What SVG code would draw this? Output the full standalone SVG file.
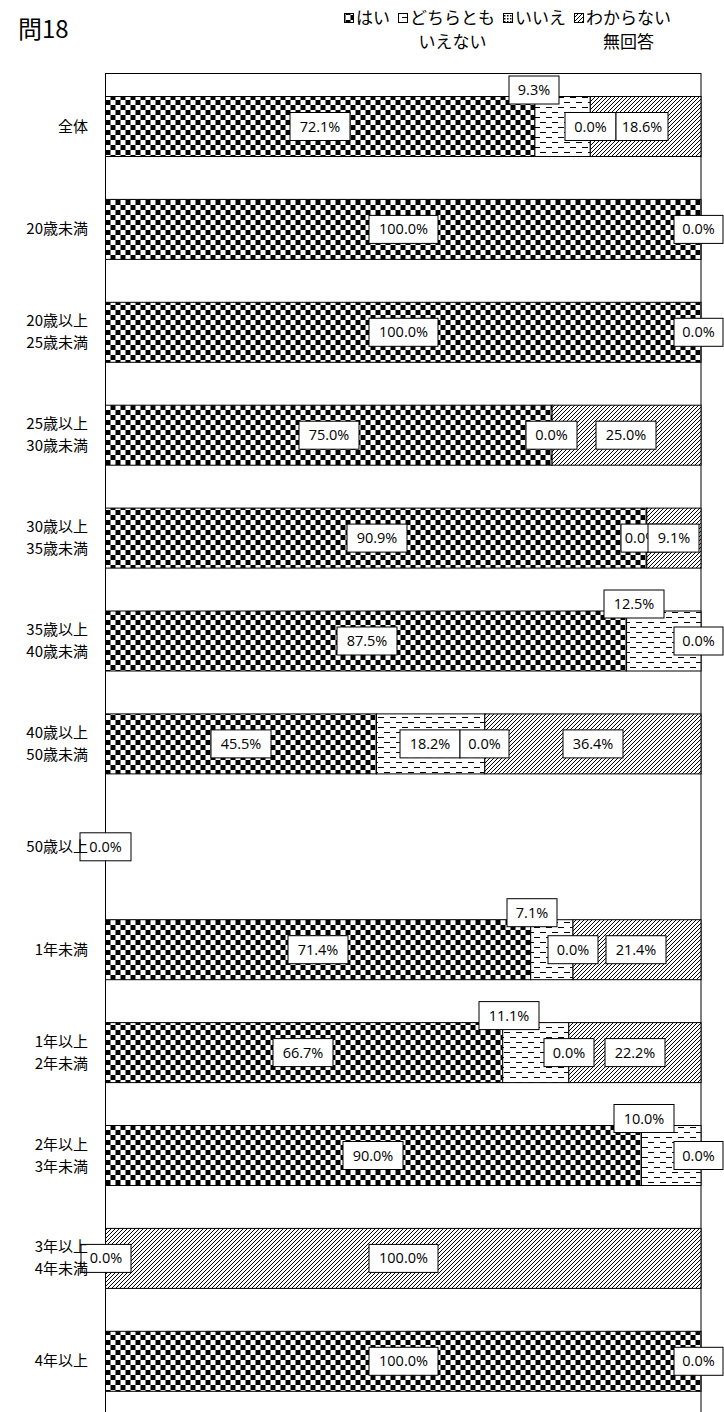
<svg xmlns="http://www.w3.org/2000/svg" width="724" height="1412" viewBox="0 0 724 1412">
<style>
.cat{font-family:"Noto Sans CJK JP","Noto Sans",sans-serif;font-size:15px;fill:#000;text-anchor:end}
.leg{font-family:"Noto Sans CJK JP","Noto Sans",sans-serif;font-size:17px;fill:#000}
.legc{font-family:"Noto Sans CJK JP","Noto Sans",sans-serif;font-size:17px;fill:#000;text-anchor:middle}
.ttl{font-family:"Noto Sans CJK JP","Noto Sans",sans-serif;font-size:24px;fill:#000}
.lb{fill:#fff;stroke:#000;stroke-width:1}
.lt{font-family:"Open Sans","Liberation Sans",sans-serif;font-size:14.5px;fill:#000;text-anchor:middle}
.seg{stroke:#000;stroke-width:1}
.yes{fill:url(#chk)}
.mid{fill:url(#dash)}
.no{fill:url(#dots)}
.unk{fill:url(#hatch)}
</style>
<defs>
<pattern id="chk" patternUnits="userSpaceOnUse" x="105.5" y="0" width="10" height="10">
<rect width="10" height="10" fill="#fff"/>
<rect width="5" height="5" fill="#000"/>
<rect x="5" y="5" width="5" height="5" fill="#000"/>
</pattern>
<pattern id="dash" patternUnits="userSpaceOnUse" width="12" height="10">
<rect width="12" height="10" fill="#fff"/>
<line x1="0" y1="2.5" x2="6" y2="2.5" stroke="#000" stroke-width="1"/>
<line x1="6" y1="7.5" x2="12" y2="7.5" stroke="#000" stroke-width="1"/>
</pattern>
<pattern id="dots" patternUnits="userSpaceOnUse" width="3" height="3">
<rect width="3" height="3" fill="#fff"/>
<rect width="1.5" height="1.5" fill="#000"/>
</pattern>
<pattern id="hatch" patternUnits="userSpaceOnUse" width="4" height="4">
<rect width="4" height="4" fill="#fff"/>
<path d="M-1,1 L1,-1 M0,4 L4,0 M3,5 L5,3" stroke="#000" stroke-width="1"/>
</pattern>
</defs>
<rect width="724" height="1412" fill="#fff"/>

<g id="title"><text class="ttl" x="18" y="38">問18</text></g>

<g id="legend">
<rect class="seg yes" x="344.5" y="13.5" width="9" height="9"/>
<text class="leg" x="356" y="24">はい</text>
<rect class="seg mid" x="398.5" y="13.5" width="9" height="9"/>
<text class="leg" x="410" y="24">どちらとも</text>
<text class="legc" x="452.5" y="48">いえない</text>
<rect class="seg no" x="503.5" y="13.5" width="9" height="9"/>
<text class="leg" x="515" y="24">いいえ</text>
<rect class="seg unk" x="574.5" y="13.5" width="9" height="9"/>
<text class="leg" x="586" y="24">わからない</text>
<text class="legc" x="628.5" y="48">無回答</text>
</g>

<g id="plot-frame">
<rect x="105.5" y="73.5" width="595.5" height="1360" fill="none" stroke="#000" stroke-width="1"/>
</g>

<g id="bars">
<g id="row-zentai">
<rect class="seg yes" x="105.5" y="96.5" width="429.4" height="60"/>
<rect class="seg mid" x="534.9" y="96.5" width="55.4" height="60"/>
<rect class="seg unk" x="590.3" y="96.5" width="110.7" height="60"/>
</g>
<g id="row-u20"><rect class="seg yes" x="105.5" y="199.4" width="595.5" height="60"/></g>
<g id="row-20-25"><rect class="seg yes" x="105.5" y="302.3" width="595.5" height="60"/></g>
<g id="row-25-30">
<rect class="seg yes" x="105.5" y="405.2" width="446.6" height="60"/>
<rect class="seg unk" x="552.1" y="405.2" width="148.9" height="60"/>
</g>
<g id="row-30-35">
<rect class="seg yes" x="105.5" y="508.1" width="541.3" height="60"/>
<rect class="seg unk" x="646.8" y="508.1" width="54.2" height="60"/>
</g>
<g id="row-35-40">
<rect class="seg yes" x="105.5" y="611" width="521.1" height="60"/>
<rect class="seg mid" x="626.6" y="611" width="74.4" height="60"/>
</g>
<g id="row-40-50">
<rect class="seg yes" x="105.5" y="713.9" width="271" height="60"/>
<rect class="seg mid" x="376.5" y="713.9" width="108.3" height="60"/>
<rect class="seg unk" x="484.8" y="713.9" width="216.2" height="60"/>
</g>
<g id="row-y1">
<rect class="seg yes" x="105.5" y="919.7" width="425.2" height="60"/>
<rect class="seg mid" x="530.7" y="919.7" width="42.3" height="60"/>
<rect class="seg unk" x="573" y="919.7" width="128" height="60"/>
</g>
<g id="row-y1-2">
<rect class="seg yes" x="105.5" y="1022.6" width="397.2" height="60"/>
<rect class="seg mid" x="502.7" y="1022.6" width="66.1" height="60"/>
<rect class="seg unk" x="568.8" y="1022.6" width="132.2" height="60"/>
</g>
<g id="row-y2-3">
<rect class="seg yes" x="105.5" y="1125.5" width="536" height="60"/>
<rect class="seg mid" x="641.5" y="1125.5" width="59.5" height="60"/>
</g>
<g id="row-y3-4"><rect class="seg unk" x="105.5" y="1228.4" width="595.5" height="60"/></g>
<g id="row-y4"><rect class="seg yes" x="105.5" y="1331.3" width="595.5" height="60"/></g>
</g>

<g id="data-labels">
<rect class="lb" x="290" y="112.5" width="60" height="28"/><text class="lt" x="320" y="131.5">72.1%</text>
<rect class="lb" x="509" y="76" width="50" height="28"/><text class="lt" x="534" y="95">9.3%</text>
<rect class="lb" x="565" y="112.5" width="51" height="28"/><text class="lt" x="590.5" y="131.5">0.0%</text>
<rect class="lb" x="616" y="112.5" width="52" height="28"/><text class="lt" x="642" y="131.5">18.6%</text>

<rect class="lb" x="369" y="215.4" width="69" height="28"/><text class="lt" x="403.5" y="234.4">100.0%</text>
<rect class="lb" x="674" y="215.4" width="49" height="28"/><text class="lt" x="698.5" y="234.4">0.0%</text>

<rect class="lb" x="369" y="318.3" width="69" height="28"/><text class="lt" x="403.5" y="337.3">100.0%</text>
<rect class="lb" x="674" y="318.3" width="49" height="28"/><text class="lt" x="698.5" y="337.3">0.0%</text>

<rect class="lb" x="299" y="421.2" width="60" height="28"/><text class="lt" x="329" y="440.2">75.0%</text>
<rect class="lb" x="526" y="421.2" width="51" height="28"/><text class="lt" x="551.5" y="440.2">0.0%</text>
<rect class="lb" x="596" y="421.2" width="60" height="28"/><text class="lt" x="626" y="440.2">25.0%</text>

<rect class="lb" x="347" y="524.1" width="60" height="28"/><text class="lt" x="377" y="543.1">90.9%</text>
<rect class="lb" x="621" y="524.1" width="48" height="28"/><text class="lt" x="641" y="543.1">0.0%</text>
<rect class="lb" x="648" y="524.1" width="51" height="28"/><text class="lt" x="674" y="543.1">9.1%</text>

<rect class="lb" x="337" y="627" width="60" height="28"/><text class="lt" x="367" y="646">87.5%</text>
<rect class="lb" x="604" y="590" width="60" height="28"/><text class="lt" x="634" y="609">12.5%</text>
<rect class="lb" x="674" y="627" width="49" height="28"/><text class="lt" x="698.5" y="646">0.0%</text>

<rect class="lb" x="211" y="729.9" width="60" height="28"/><text class="lt" x="241" y="748.9">45.5%</text>
<rect class="lb" x="400" y="729.9" width="60" height="28"/><text class="lt" x="430" y="748.9">18.2%</text>
<rect class="lb" x="460" y="729.9" width="49" height="28"/><text class="lt" x="484.5" y="748.9">0.0%</text>
<rect class="lb" x="563" y="729.9" width="60" height="28"/><text class="lt" x="593" y="748.9">36.4%</text>

<rect class="lb" x="80" y="832.8" width="51" height="28"/><text class="lt" x="105.5" y="851.8">0.0%</text>

<rect class="lb" x="288" y="935.7" width="60" height="28"/><text class="lt" x="318" y="954.7">71.4%</text>
<rect class="lb" x="507" y="898.7" width="50" height="28"/><text class="lt" x="532" y="917.7">7.1%</text>
<rect class="lb" x="548" y="935.7" width="50" height="28"/><text class="lt" x="573" y="954.7">0.0%</text>
<rect class="lb" x="606" y="935.7" width="60" height="28"/><text class="lt" x="636" y="954.7">21.4%</text>

<rect class="lb" x="273" y="1038.6" width="60" height="28"/><text class="lt" x="303" y="1057.6">66.7%</text>
<rect class="lb" x="479" y="1001.6" width="60" height="28"/><text class="lt" x="509" y="1020.6">11.1%</text>
<rect class="lb" x="544" y="1038.6" width="50" height="28"/><text class="lt" x="569" y="1057.6">0.0%</text>
<rect class="lb" x="605" y="1038.6" width="60" height="28"/><text class="lt" x="635" y="1057.6">22.2%</text>

<rect class="lb" x="343" y="1141.5" width="60" height="28"/><text class="lt" x="373" y="1160.5">90.0%</text>
<rect class="lb" x="614" y="1104.5" width="60" height="28"/><text class="lt" x="644" y="1123.5">10.0%</text>
<rect class="lb" x="674" y="1141.5" width="49" height="28"/><text class="lt" x="698.5" y="1160.5">0.0%</text>

<rect class="lb" x="81" y="1244.4" width="50" height="28"/><text class="lt" x="106" y="1263.4">0.0%</text>
<rect class="lb" x="369" y="1244.4" width="69" height="28"/><text class="lt" x="403.5" y="1263.4">100.0%</text>

<rect class="lb" x="369" y="1347.3" width="69" height="28"/><text class="lt" x="403.5" y="1366.3">100.0%</text>
<rect class="lb" x="674" y="1347.3" width="49" height="28"/><text class="lt" x="698.5" y="1366.3">0.0%</text>
</g>

<g id="categories">
<text class="cat" x="88" y="131.5">全体</text>
<text class="cat" x="88" y="234.4">20歳未満</text>
<text class="cat" x="88" y="326.3">20歳以上</text><text class="cat" x="88" y="348.3">25歳未満</text>
<text class="cat" x="88" y="429.2">25歳以上</text><text class="cat" x="88" y="451.2">30歳未満</text>
<text class="cat" x="88" y="532.1">30歳以上</text><text class="cat" x="88" y="554.1">35歳未満</text>
<text class="cat" x="88" y="635">35歳以上</text><text class="cat" x="88" y="657">40歳未満</text>
<text class="cat" x="88" y="737.9">40歳以上</text><text class="cat" x="88" y="759.9">50歳未満</text>
<text class="cat" x="88" y="851.8">50歳以上</text>
<text class="cat" x="88" y="954.7">1年未満</text>
<text class="cat" x="88" y="1046.6">1年以上</text><text class="cat" x="88" y="1068.6">2年未満</text>
<text class="cat" x="88" y="1149.5">2年以上</text><text class="cat" x="88" y="1171.5">3年未満</text>
<text class="cat" x="88" y="1252.4">3年以上</text><text class="cat" x="88" y="1274.4">4年未満</text>
<text class="cat" x="88" y="1366.3">4年以上</text>
</g>
</svg>
